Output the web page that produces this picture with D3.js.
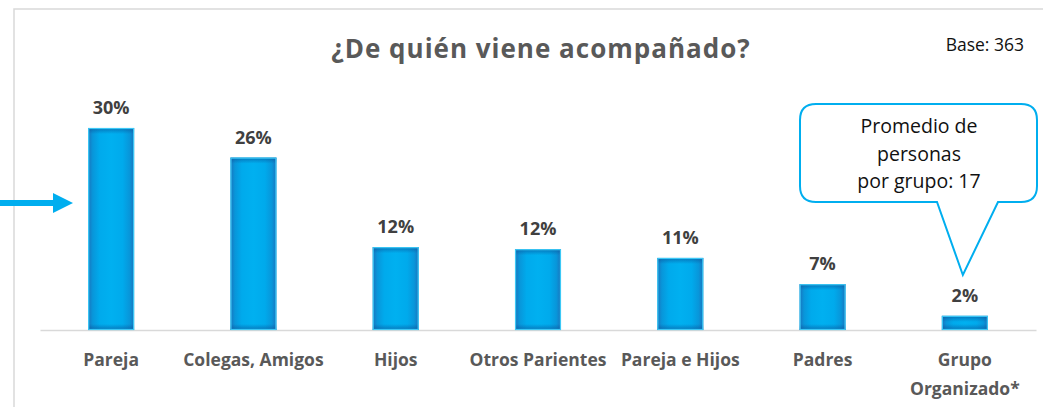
<!DOCTYPE html>
<html>
<head>
<meta charset="utf-8">
<script src="https://cdn.jsdelivr.net/npm/d3@7"></script>
<style>
  html, body { margin: 0; padding: 0; background: #fff; }
  svg { display: block; }
</style>
</head>
<body>
<div class="bar-chart-container"></div>
<script>
// datos
const categories = ['Pareja', 'Colegas, Amigos', 'Hijos', 'Otros Parientes', 'Pareja e Hijos', 'Padres', 'Grupo\nOrganizado*'];
const values = [30, 25.6, 12.3, 12.0, 10.7, 6.8, 2.1];
const valueLabels = ['30%', '26%', '12%', '12%', '11%', '7%', '2%'];
const calloutLines = ['Promedio de', 'personas', 'por grupo: 17'];
const titleText = '¿De quién viene acompañado?';
const baseText = 'Base: 363';

const svg_width = 1043;
const svg_height = 407;
const blue = '#00aeef';

const svg = d3.select('.bar-chart-container').append('svg')
  .attr('width', svg_width).attr('height', svg_height);

// escalas
const xScale = d3.scaleBand().domain(categories).range([40, 1036]).paddingInner(0.677).paddingOuter(0.3385);
const yScale = d3.scaleLinear().domain([0, 30]).range([330, 128]);

// degradados: bordes más oscuros (efecto sombra interior)
const defs = svg.append('defs');
const hGrad = defs.append('linearGradient').attr('id', 'hgrad')
  .attr('x1', 0).attr('x2', 1).attr('y1', 0).attr('y2', 0);
[[0, '#1a74bd'], [0.1, '#0896da'], [0.25, '#00aaec'], [0.5, '#00b0f0'], [0.75, '#00aaec'], [0.9, '#0896da'], [1, '#1a74bd']]
  .forEach(s => hGrad.append('stop').attr('offset', s[0]).attr('stop-color', s[1]));

defs.selectAll('.vgrad').data(categories).enter().append('linearGradient')
  .attr('class', 'vgrad')
  .attr('id', (d, i) => `vgrad-${i}`)
  .attr('gradientUnits', 'userSpaceOnUse')
  .attr('x1', 0).attr('x2', 0)
  .attr('y1', (d, i) => yScale(values[i]))
  .attr('y2', yScale(0))
  .each(function (d, i) {
    const h = yScale(0) - yScale(values[i]);
    const f = Math.min(0.45, 6 / h);
    const g = d3.select(this);
    [[0, 0.6], [f, 0], [1 - f, 0], [1, 0.6]].forEach(s =>
      g.append('stop').attr('offset', s[0]).attr('stop-color', '#0b4f96').attr('stop-opacity', s[1]));
  });

// marco gris
svg.append('path')
  .attr('d', `M14,${svg_height} L14,9 L${svg_width},9`)
  .attr('fill', 'none').attr('stroke', '#d9d9d9').attr('stroke-width', 1.5);

// eje x (solo la línea)
const xAxis = d3.axisBottom(xScale).tickSize(0).tickFormat('');
svg.append('g').attr('class', 'x axis')
  .attr('transform', `translate(0,${yScale(0)})`)
  .call(xAxis)
  .call(g => g.select('.domain').attr('stroke', '#d9d9d9').attr('stroke-width', 1.5));

// barras
const bars = svg.append('g').attr('class', 'bars')
  .selectAll('g').data(categories).enter().append('g');

bars.append('rect')
  .attr('x', d => xScale(d))
  .attr('y', (d, i) => yScale(values[i]))
  .attr('width', xScale.bandwidth())
  .attr('height', (d, i) => yScale(0) - yScale(values[i]))
  .attr('fill', 'url(#hgrad)');

bars.append('rect')
  .attr('x', d => xScale(d))
  .attr('y', (d, i) => yScale(values[i]))
  .attr('width', xScale.bandwidth())
  .attr('height', (d, i) => yScale(0) - yScale(values[i]))
  .attr('fill', (d, i) => `url(#vgrad-${i})`);

bars.append('rect')
  .attr('x', d => xScale(d) + 0.5)
  .attr('y', (d, i) => yScale(values[i]) + 0.5)
  .attr('width', xScale.bandwidth() - 1)
  .attr('height', (d, i) => yScale(0) - yScale(values[i]) - 1)
  .attr('fill', 'none')
  .attr('stroke', '#3cc8f6').attr('stroke-width', 1.2);

// etiquetas de valor
bars.append('text')
  .attr('x', d => xScale(d) + xScale.bandwidth() / 2)
  .attr('y', (d, i) => yScale(values[i]) - 14)
  .attr('text-anchor', 'middle')
  .style('font-family', '"Open Sans", sans-serif')
  .style('font-weight', 'bold')
  .style('font-size', '18px')
  .style('fill', '#404040')
  .text((d, i) => valueLabels[i]);

// etiquetas de categoría
const catLabels = svg.append('g').attr('class', 'cat-labels')
  .selectAll('text').data(categories).enter().append('text')
  .attr('x', d => xScale(d) + xScale.bandwidth() / 2)
  .attr('y', 366)
  .attr('text-anchor', 'middle')
  .style('font-family', '"Open Sans", sans-serif')
  .style('font-weight', 'bold')
  .style('font-size', '17.5px')
  .style('fill', '#595959');
catLabels.each(function (d) {
  const t = d3.select(this);
  d.split('\n').forEach((line, k) => {
    t.append('tspan').attr('x', xScale(d) + xScale.bandwidth() / 2)
      .attr('dy', k === 0 ? 0 : 29).text(line);
  });
});

// título
svg.append('text')
  .attr('x', 541).attr('y', 58)
  .attr('text-anchor', 'middle')
  .style('font-family', '"Open Sans", sans-serif')
  .style('font-weight', 'bold')
  .style('font-size', '26px')
  .style('letter-spacing', '1px')
  .style('fill', '#595959')
  .text(titleText);

svg.append('text')
  .attr('x', 1024).attr('y', 51)
  .attr('text-anchor', 'end')
  .style('font-family', '"Open Sans", sans-serif')
  .style('font-size', '17.5px')
  .style('fill', '#111')
  .text(baseText);

// flecha izquierda apuntando a la primera barra
const arrowY = yScale(values[0]) + 75;
svg.append('path')
  .attr('d', `M0,${arrowY - 3} L53,${arrowY - 3} L53,${arrowY - 10} L73,${arrowY} L53,${arrowY + 10} L53,${arrowY + 3} L0,${arrowY + 3} Z`)
  .attr('fill', blue);

// globo de texto sobre "Grupo Organizado*"
const last = categories[categories.length - 1];
const tipX = xScale(last) + xScale.bandwidth() / 2 - 2;
const tipY = 275;
const bx0 = 800, bx1 = 1037, by0 = 104, by1 = 202, r = 16;
const calloutPath = [
  `M${bx0 + r},${by0}`,
  `L${bx1 - r},${by0}`, `Q${bx1},${by0} ${bx1},${by0 + r}`,
  `L${bx1},${by1 - r}`, `Q${bx1},${by1} ${bx1 - r},${by1}`,
  `L998,${by1}`, `L${tipX},${tipY}`, `L937,${by1}`,
  `L${bx0 + r},${by1}`, `Q${bx0},${by1} ${bx0},${by1 - r}`,
  `L${bx0},${by0 + r}`, `Q${bx0},${by0} ${bx0 + r},${by0}`, 'Z'
].join(' ');
svg.append('path')
  .attr('d', calloutPath)
  .attr('fill', '#fff').attr('stroke', blue).attr('stroke-width', 2);

svg.append('text')
  .attr('text-anchor', 'middle')
  .style('font-family', '"Open Sans", sans-serif')
  .style('font-size', '19.5px')
  .style('fill', '#111')
  .selectAll('tspan').data(calloutLines).enter().append('tspan')
  .attr('x', 919)
  .attr('y', (d, i) => 133 + i * 27.5)
  .text(d => d);
</script>
</body>
</html>
